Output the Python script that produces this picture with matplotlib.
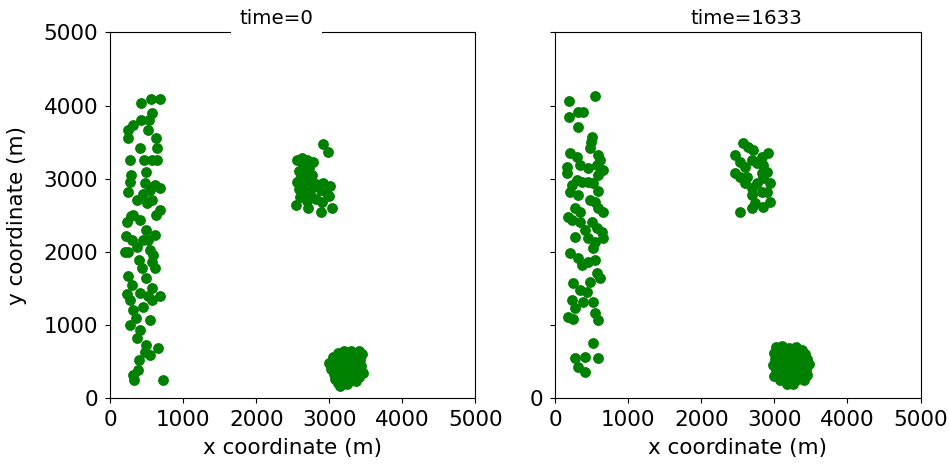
import matplotlib
matplotlib.use('Agg')
import matplotlib.pyplot as plt

# ---- time = 0 ----
# left column of nodes
t0_col_x = [425, 562, 685, 575, 534, 425, 247, 315, 247, 521, 630, 644, 411, 274, 466, 575,
            493, 288, 480, 617, 685, 274, 247, 370, 452, 507, 575, 685, 315, 411, 630, 233,
            493, 617, 301, 370, 548, 247, 575, 438, 247, 301, 411, 575, 521, 685, 274, 315,
            452, 575, 356, 411, 548, 370, 493, 480, 397, 384, 315, 329, 726, 658, 548, 206,
            219, 288, 521, 452, 397, 493, 617, 233, 274, 589, 644, 548]
t0_col_y = [4030, 4085, 4085, 3893, 3797, 3797, 3661, 3729, 3552, 3661, 3552, 3415, 3415, 3251, 3251, 3251,
            3087, 3046, 2937, 2910, 2869, 2951, 2814, 2705, 2787, 2664, 2705, 2568, 2500, 2431, 2500, 2404,
            2295, 2227, 2158, 2063, 2022, 1994, 1858, 1776, 1667, 1544, 1434, 1503, 1393, 1393, 1339, 1202,
            1243, 1339, 1093, 929, 1065, 820, 724, 628, 519, 382, 314, 246, 246, 683, 587, 1994,
            2213, 2486, 2158, 2158, 1885, 1639, 1776, 1421, 997, 1953, 3251, 2842]
# middle cluster
t0_mid_x = [2920, 2980, 2560, 2620, 2700, 2780, 2640, 2720, 2580, 2680, 2760, 2600, 2650, 2740,
            2820, 2920, 3010, 2580, 2660, 2740, 2880, 2960, 3000, 2600, 2700, 2820, 2900, 2540,
            2710, 2880, 3040, 2780, 2620, 2560, 2700]
t0_mid_y = [3480, 3370, 3250, 3280, 3260, 3230, 3180, 3150, 3100, 3080, 3050, 3000, 2950, 2980,
            2930, 2940, 2900, 2860, 2830, 2790, 2840, 2820, 2760, 2750, 2700, 2720, 2680, 2640,
            2600, 2540, 2600, 2880, 2900, 2960, 3180]
# bottom cluster
t0_bot_x = [3050, 3120, 3200, 3300, 3400, 3450, 3000, 3080, 3160, 3250, 3340, 3420, 3030, 3100,
            3180, 3260, 3350, 3440, 3060, 3140, 3220, 3300, 3380, 3460, 3080, 3160, 3240, 3320,
            3400, 3120, 3200, 3280, 3360, 3150, 3240, 3050, 3230, 3310, 3120, 3400]
t0_bot_y = [560, 620, 640, 650, 640, 600, 480, 500, 540, 560, 580, 520, 400, 420,
            460, 480, 470, 440, 330, 360, 380, 400, 380, 350, 260, 280, 300, 320,
            290, 210, 220, 240, 230, 170, 190, 450, 420, 530, 540, 560]

# ---- time = 1633 ----
t1_col_x = [548, 192, 192, 315, 384, 315, 507, 493, 480, 206, 301, 589, 617, 575, 343, 164,
            452, 164, 658, 589, 301, 370, 452, 521, 233, 206, 589, 315, 480, 548, 589, 658,
            274, 343, 178, 233, 343, 507, 575, 644, 411, 274, 452, 658, 548, 206, 315, 521,
            548, 370, 452, 575, 617, 247, 480, 343, 438, 521, 233, 384, 274, 178, 247, 548,
            589, 521, 274, 411, 589, 315, 411]
t1_col_y = [4125, 4057, 3838, 3907, 3907, 3702, 3565, 3497, 3415, 3347, 3292, 3319, 3251, 3183, 3183, 3155,
            3142, 3074, 3114, 3046, 2978, 2951, 2951, 2937, 2910, 2814, 2828, 2773, 2705, 2677, 2595, 2541,
            2595, 2541, 2472, 2431, 2404, 2404, 2322, 2268, 2295, 2199, 2186, 2186, 2131, 1981, 1912, 2049,
            1885, 1817, 1858, 1708, 1639, 1571, 1585, 1475, 1448, 1311, 1339, 1311, 1229, 1106, 1079, 1161,
            1065, 751, 546, 560, 546, 423, 355]
t1_mid_x = [2576, 2644, 2713, 2466, 2918, 2836, 2535, 2699, 2767, 2850, 2603, 2466, 2535, 2630,
            2836, 2904, 2603, 2767, 2850, 2946, 2699, 2836, 2699, 2904, 2535, 2699, 2850, 2946, 2740]
t1_mid_y = [3483, 3429, 3388, 3319, 3347, 3292, 3224, 3251, 3210, 3183, 3155, 3074, 3019, 3019,
            3074, 3087, 2937, 2937, 3005, 2937, 2869, 2814, 2773, 2814, 2541, 2595, 2609, 2677, 2664]
t1_bot_x = [3020, 3110, 3200, 3300, 3380, 2990, 3070, 3150, 3240, 3330, 3420, 3010, 3090, 3180,
            3260, 3350, 3440, 2980, 3060, 3140, 3220, 3300, 3390, 3470, 3020, 3100, 3190, 3270,
            3350, 3430, 3050, 3130, 3210, 3290, 3370, 3450, 3080, 3160, 3240, 3320, 3400, 3170,
            3260, 3000, 3230, 3310, 3150, 3270]
t1_bot_y = [700, 720, 690, 700, 660, 620, 640, 610, 630, 600, 610, 540, 560, 530,
            550, 520, 540, 460, 480, 450, 470, 440, 460, 470, 390, 410, 380, 400,
            370, 390, 320, 340, 310, 330, 300, 320, 250, 270, 240, 260, 250, 200,
            190, 300, 560, 480, 480, 640]

ticks = [0, 1000, 2000, 3000, 4000, 5000]

fig = plt.figure(figsize=(9.49, 4.69), dpi=100)
ax1 = fig.add_axes([0.116, 0.151, 0.385, 0.780])
ax2 = fig.add_axes([0.585, 0.151, 0.385, 0.780])

panels = [
    (ax1, [(t0_col_x, t0_col_y), (t0_mid_x, t0_mid_y), (t0_bot_x, t0_bot_y)]),
    (ax2, [(t1_col_x, t1_col_y), (t1_mid_x, t1_mid_y), (t1_bot_x, t1_bot_y)]),
]

for ax, groups in panels:
    for xs, ys in groups:
        ax.scatter(xs, ys, s=46, color='green')
    ax.set_xlim(0, 5000)
    ax.set_ylim(0, 5000)
    ax.set_xticks(ticks)
    ax.set_yticks(ticks)
    ax.tick_params(labelsize=15.5, pad=5)
    ax.set_xlabel('x coordinate (m)', fontsize=15.5, labelpad=6)

# left title has a white box that hides part of the top spine
ax1.set_title('time=0', fontsize=14.3,
              bbox=dict(facecolor='white', edgecolor='none', pad=6))
ax1.title.set_x(0.455)
ax2.set_title('time=1633', fontsize=14.3)
ax2.title.set_x(0.523)
ax1.set_ylabel('y coordinate (m)', fontsize=15.5, labelpad=12)
# right panel only shows the 0 label
ax2.set_yticklabels(['0', '', '', '', '', ''])

fig.savefig('out.png', dpi=100)
